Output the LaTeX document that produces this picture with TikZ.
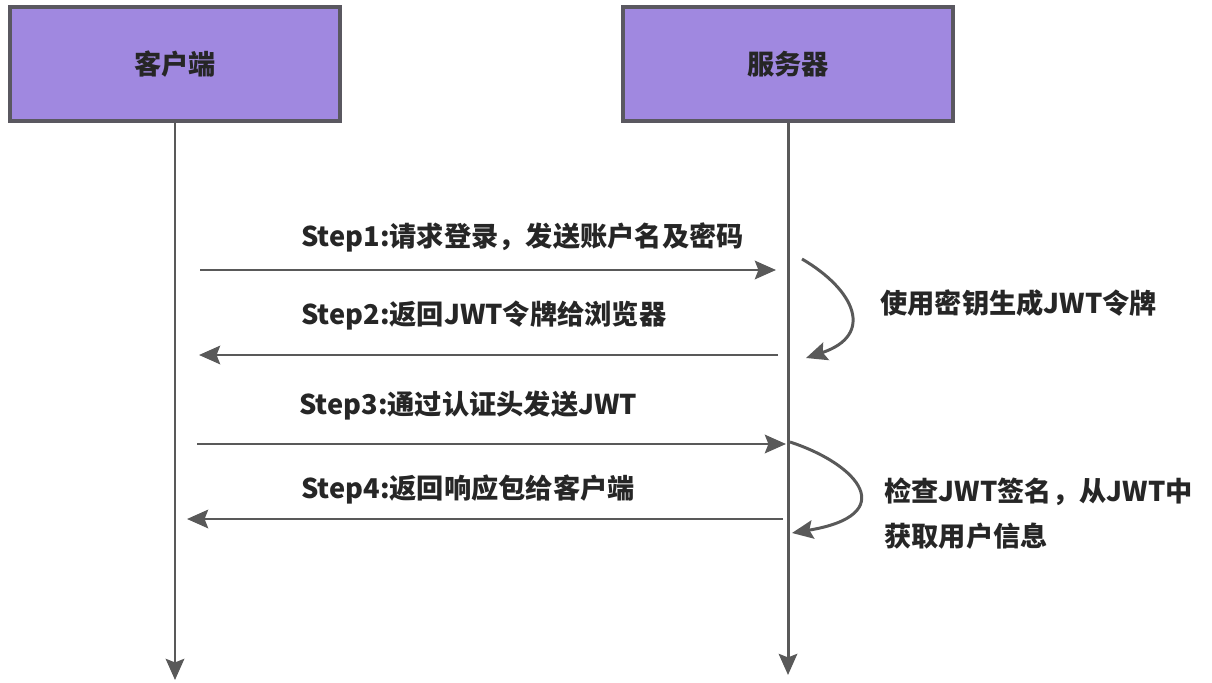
\documentclass[tikz,border=0pt]{standalone}
\usepackage{fontspec}
\setmainfont{Noto Sans CJK SC}
\usetikzlibrary{arrows.meta}
\definecolor{boxfill}{HTML}{A088E0}
\definecolor{boxline}{HTML}{5A5860}
\definecolor{arrowgray}{HTML}{595959}
\definecolor{textdark}{HTML}{262626}
\tikzset{
	party/.style={draw=boxline, line width=2.3pt, fill=boxfill, minimum width=6.6cm, minimum height=2.28cm, font=\fontsize{15.5}{19}\selectfont\bfseries, text=textdark},
	msgline/.style={draw=arrowgray, line width=1.7pt, -{Stealth[length=12pt,width=10.5pt,inset=2pt]}},
	msglabel/.style={anchor=west, font=\fontsize{15.5}{19}\selectfont\bfseries, text=textdark, inner sep=0pt},
	note/.style={anchor=west, align=left, font=\fontsize{15.5}{25.6}\selectfont\bfseries, text=textdark, inner sep=0pt}
}

\begin{document}
\begin{tikzpicture}[x=0.02cm, y=-0.02cm]
	% canvas: 1212 x 682 px
	\useasboundingbox (0,0) rectangle (1212,682);
	% the two parties
	\node[party] (client) at (175,64) {客户端};
	\node[party] (server) at (788,64) {服务器};
	% lifelines
	\coordinate (clientend) at (175,680);
	\coordinate (serverend) at (788,675);
	\draw[msgline] (client.south) -- (clientend);
	\draw[msgline] (server.south) -- (serverend);
	% message end points
	\coordinate (s1a) at (200,270);
	\coordinate (s1b) at (776,270);
	\coordinate (s2a) at (778,355);
	\coordinate (s2b) at (199,355);
	\coordinate (s3a) at (197,444);
	\coordinate (s3b) at (786,444);
	\coordinate (s4a) at (783,519);
	\coordinate (s4b) at (187,519);
	% messages
	\draw[msgline] (s1a) -- (s1b);
	\draw[msgline] (s2a) -- (s2b);
	\draw[msgline] (s3a) -- (s3b);
	\draw[msgline] (s4a) -- (s4b);
	\node[msglabel] (lab1) at (301,237) {Step1:请求登录，发送账户名及密码};
	\node[msglabel] (lab2) at (301,316) {Step2:返回JWT令牌给浏览器};
	\node[msglabel] (lab3) at (299,406) {Step3:通过认证头发送JWT};
	\node[msglabel] (lab4) at (301,489) {Step4:返回响应包给客户端};
	% server side work
	\coordinate (sign1) at (802,259);
	\coordinate (sign2) at (806,358);
	\coordinate (check1) at (790,442);
	\coordinate (check2) at (792,533);
	\draw[msgline] (sign1) .. controls (855,290) and (875,335) .. (sign2);
	\draw[msgline] (check1) .. controls (860,465) and (900,515) .. (check2);
	\node[note] (signnote) at (880,303) {使用密钥生成JWT令牌};
	\node[note, anchor=north west] (checknote) at (884,477) {检查JWT签名，从JWT中\\获取用户信息};
\end{tikzpicture}
\end{document}
